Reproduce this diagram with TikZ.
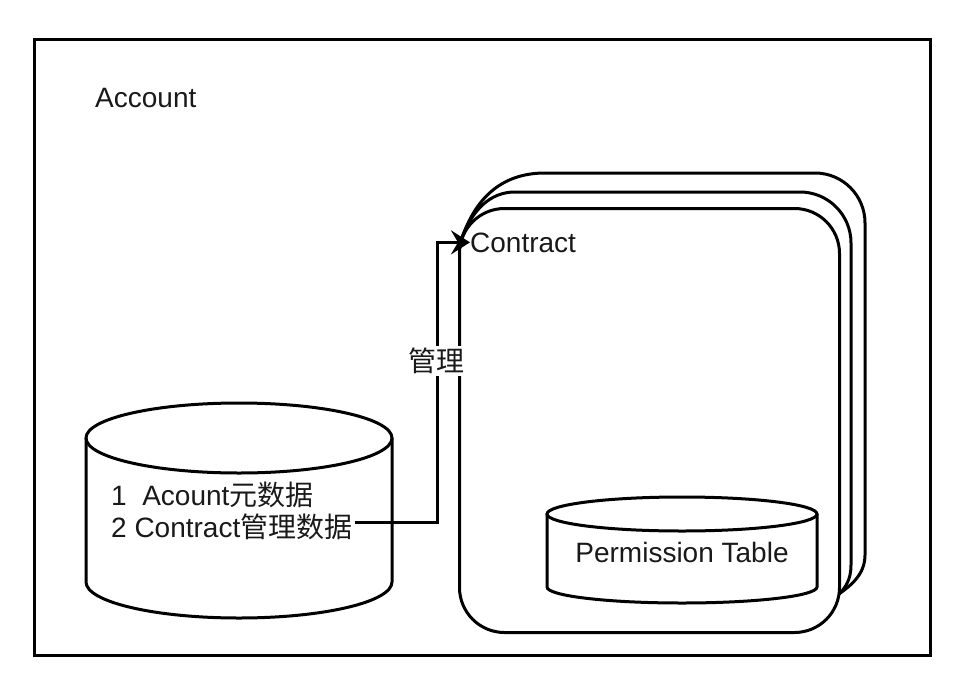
\documentclass[tikz,border=0pt]{standalone}
\usepackage{fontspec}
\setmainfont{Liberation Sans}
\newfontfamily\cjk{Noto Sans CJK SC}
\usetikzlibrary{arrows.meta}
\begin{document}
\begin{tikzpicture}[x=1pt,y=-1pt,
  shapeline/.style={draw=black, line width=3pt},
  txt/.style={font=\fontsize{28}{32}\selectfont, inner sep=0pt, text=black!90},
  cjktxt/.style={font=\cjk\fontsize{28}{32}\selectfont, text=black!90},
  conn/.style={draw=black, line width=3pt, -{Stealth[length=19pt,width=24pt,inset=7pt]}}]
\useasboundingbox (0,0) rectangle (976,674);
% outer frame
\node[shapeline, anchor=north west, inner sep=0pt, minimum width=896pt, minimum height=616pt] (account) at (33,38) {};
\node[txt, anchor=base west] (acct) at (95,107) {Account};
% back layers of the contract stack
\draw[shapeline] (462,238) .. controls (475,200) and (500,173) .. (545,173) -- (815,173)
  arc[start angle=90, end angle=0, radius=50pt] -- (865,555)
  .. controls (865,575) and (850,586) .. (839,594);
\draw[shapeline] (461,240) .. controls (472,210) and (490,192) .. (515,192) -- (800,192)
  arc[start angle=90, end angle=0, radius=51pt] -- (851,565)
  .. controls (851,580) and (845,588) .. (839,594);
% front contract box
\node[shapeline, rounded corners=45pt, anchor=north west, inner sep=0pt, minimum width=380pt, minimum height=424pt] (contract) at (458,207) {};
\node[txt, anchor=base west] (ctxt) at (470,252) {Contract};
% big cylinder
\draw[shapeline] (86,438) -- (86,582) arc[start angle=180, end angle=360, x radius=153pt, y radius=36pt] -- (392,438);
\draw[shapeline] (239,438) ellipse [x radius=153pt, y radius=35pt];
\node[txt, anchor=base west] (l1) at (111,505) {1\ \ Acount{\cjk 元数据}};
\node[txt, anchor=base west] (l2) at (111,537) {2 Contract{\cjk 管理数据}};
% permission table cylinder
\draw[shapeline] (547,514) -- (547,587) arc[start angle=180, end angle=360, x radius=135pt, y radius=16pt] -- (817,514);
\draw[shapeline] (682,514) ellipse [x radius=135pt, y radius=17pt];
\node[txt] (perm) at (682,552) {Permission Table};
% connector
\coordinate (src) at (355,522);
\draw[conn] (src) -- ++(82,0) |- (ctxt.west);
\node[cjktxt, fill=white, inner sep=2pt] (lbl) at (436,361) {管理};
\end{tikzpicture}
\end{document}
